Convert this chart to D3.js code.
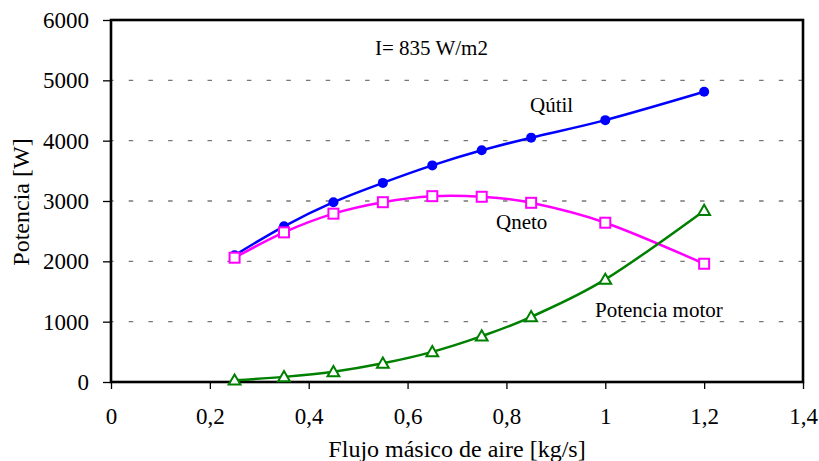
<!DOCTYPE html>
<html>
<head>
<meta charset="utf-8">
<script src="https://cdn.jsdelivr.net/npm/d3@7"></script>
<style>
  body { margin: 0; background: #fff; }
  text { font-family: "Liberation Serif", "Times New Roman", serif; }
</style>
</head>
<body>
<div id="chart"></div>
<script>
var width = 819;
var height = 461;

// data
var flujo = [0.25, 0.35, 0.45, 0.55, 0.65, 0.75, 0.85, 1.0, 1.2];
var qUtil = [2100, 2580, 2980, 3300, 3590, 3840, 4050, 4340, 4810];
var qNeto = [2060, 2480, 2790, 2980, 3080, 3070, 2970, 2640, 1960];
var motor = [30, 85, 170, 310, 500, 760, 1080, 1700, 2840];
var xTicks = [0, 0.2, 0.4, 0.6, 0.8, 1.0, 1.2, 1.4];
var yTicks = [0, 1000, 2000, 3000, 4000, 5000, 6000];

var margin = {top: 20, right: 16, bottom: 79, left: 111};

var svg = d3.select("#chart").append("svg")
  .attr("width", width)
  .attr("height", height);

var x = d3.scaleLinear().domain([0, 1.4]).range([margin.left, width - margin.right]);
var y = d3.scaleLinear().domain([0, 6000]).range([height - margin.bottom, margin.top]);

// grid lines
svg.selectAll(".grid")
  .data(yTicks.filter(function(d) { return d > 0 && d < 6000; }))
  .enter().append("line")
  .attr("x1", x(0)).attr("x2", x(1.4))
  .attr("y1", function(d) { return y(d); })
  .attr("y2", function(d) { return y(d); })
  .attr("stroke", "#777")
  .attr("stroke-width", 1.3)
  .attr("stroke-dasharray", "4.5,15.2")
  .attr("stroke-dashoffset", 2);

// axes
var fmt = function(d) { return String(d).replace(".", ","); };
var xAxis = d3.axisBottom(x).tickValues(xTicks).tickFormat(fmt).tickSizeInner(7).tickSizeOuter(0).tickPadding(19);
var yAxis = d3.axisLeft(y).tickValues(yTicks).tickFormat(d3.format("d")).tickSizeInner(8).tickSizeOuter(0).tickPadding(14);

var gx = svg.append("g").attr("transform", "translate(0," + y(0) + ")").call(xAxis);
var gy = svg.append("g").attr("transform", "translate(" + x(0) + ",0)").call(yAxis);
[gx, gy].forEach(function(g) {
  g.select(".domain").remove();
  g.selectAll(".tick line").attr("stroke", "#000").attr("stroke-width", 1.3);
  g.selectAll(".tick text").attr("font-size", 23).attr("fill", "#000");
});

// plot frame
svg.append("rect")
  .attr("x", x(0)).attr("y", y(6000))
  .attr("width", x(1.4) - x(0))
  .attr("height", y(0) - y(6000))
  .attr("fill", "none")
  .attr("stroke", "#000")
  .attr("stroke-width", 2.6);

var curve = d3.curveCatmullRom.alpha(0);

function serie(vals, color) {
  var pts = flujo.map(function(f, i) { return [f, vals[i]]; });
  var line = d3.line()
    .x(function(d) { return x(d[0]); })
    .y(function(d) { return y(d[1]); })
    .curve(curve);
  svg.append("path")
    .attr("d", line(pts))
    .attr("fill", "none")
    .attr("stroke", color)
    .attr("stroke-width", 2.5);
  return pts;
}

var p1 = serie(qUtil, "#0000ff");
svg.selectAll(".circ").data(p1).enter().append("circle")
  .attr("cx", function(d) { return x(d[0]); })
  .attr("cy", function(d) { return y(d[1]); })
  .attr("r", 5)
  .attr("fill", "#0000ff");

var p2 = serie(qNeto, "#ff00ff");
svg.selectAll(".sq").data(p2).enter().append("rect")
  .attr("x", function(d) { return x(d[0]) - 5; })
  .attr("y", function(d) { return y(d[1]) - 5; })
  .attr("width", 10).attr("height", 10)
  .attr("fill", "#fff")
  .attr("stroke", "#ff00ff")
  .attr("stroke-width", 2);

var p3 = serie(motor, "#008000");
var tri = d3.symbol().type(d3.symbolTriangle).size(60);
svg.selectAll(".tri").data(p3).enter().append("path")
  .attr("d", tri)
  .attr("transform", function(d) { return "translate(" + x(d[0]) + "," + (y(d[1]) + 1) + ")"; })
  .attr("fill", "#fff")
  .attr("stroke", "#008000")
  .attr("stroke-width", 2);

// labels
var labels = [
  {t: "I= 835 W/m2", x: 375, y: 55},
  {t: "Q\u00fatil", x: 530, y: 112},
  {t: "Qneto", x: 496, y: 229},
  {t: "Potencia motor", x: 595, y: 317}
];
svg.selectAll(".lab").data(labels).enter().append("text")
  .attr("x", function(d) { return d.x; })
  .attr("y", function(d) { return d.y; })
  .attr("font-size", 21)
  .attr("fill", "#000")
  .text(function(d) { return d.t; });

svg.append("text")
  .attr("x", (x(0) + x(1.4)) / 2)
  .attr("y", 457)
  .attr("text-anchor", "middle")
  .attr("font-size", 24)
  .text("Flujo m\u00e1sico de aire [kg/s]");

svg.append("text")
  .attr("transform", "translate(29," + 202 + ") rotate(-90)")
  .attr("text-anchor", "middle")
  .attr("font-size", 24)
  .text("Potencia [W]");
</script>
</body>
</html>
